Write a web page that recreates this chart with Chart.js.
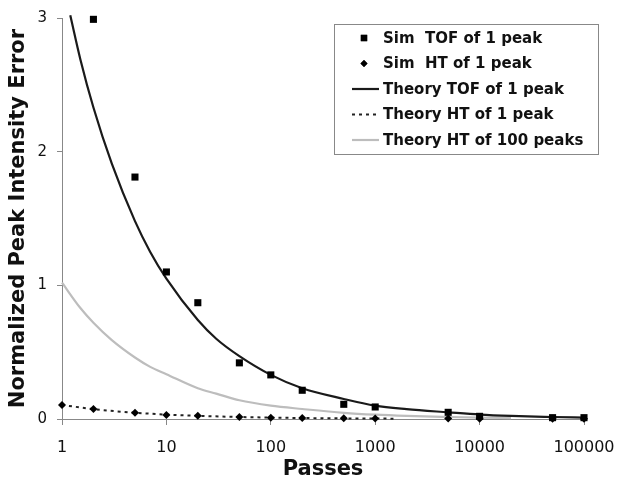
<!DOCTYPE html>
<html>
<head>
<meta charset="utf-8">
<script src="https://cdn.jsdelivr.net/npm/chart.js@4"></script>
<style>
  html, body { margin: 0; padding: 0; background: #fff; }
  #wrap { width: 617px; height: 478px; }
</style>
</head>
<body>
<div id="wrap"><canvas id="chart" width="617" height="478"></canvas></div>
<script>
// tick labels
const xTicks = [1, 10, 100, 1000, 10000, 100000];
const xTickLabels = ['1', '10', '100', '1000', '10000', '100000'];
const yTicks = [0, 1, 2, 3];

// simulated points
const simTofX = [2, 5, 10, 20, 50, 100, 200, 500, 1000, 5000, 10000, 50000, 100000];
const simTofY = [2.99, 1.81, 1.10, 0.87, 0.42, 0.33, 0.215, 0.11, 0.09, 0.05, 0.02, 0.01, 0.01];
const simHtX = [1, 2, 5, 10, 20, 50, 100, 200, 500, 1000, 5000, 10000, 50000, 100000];
const simHtY = [0.105, 0.075, 0.047, 0.03, 0.024, 0.015, 0.01, 0.007, 0.005, 0.004, 0.003, 0.001, 0.002, 0.002];

// theory curves
const theoryTofX = [1.2, 1.5, 2, 3, 5, 7, 10, 20, 30, 50, 100, 200, 500, 1000, 2000, 5000, 10000, 20000, 50000, 100000];
const theoryTofY = [3.02, 2.69, 2.33, 1.91, 1.48, 1.25, 1.05, 0.74, 0.60, 0.47, 0.33, 0.23, 0.15, 0.10, 0.074, 0.05, 0.033, 0.023, 0.015, 0.01];
const theoryHt1X = [1, 2, 5, 10, 20, 50, 100, 200, 500, 1000, 1500];
const theoryHt1Y = [0.105, 0.074, 0.047, 0.033, 0.024, 0.015, 0.0105, 0.0074, 0.0047, 0.0033, 0.0027];
const theoryHt100X = [1, 1.5, 2, 3, 5, 7, 10, 20, 30, 50, 100, 200, 500, 1000, 2000, 5000, 10000, 20000];
const theoryHt100Y = [1.02, 0.83, 0.72, 0.59, 0.46, 0.39, 0.335, 0.23, 0.19, 0.14, 0.10, 0.075, 0.046, 0.032, 0.023, 0.015, 0.010, 0.007];

const zip = (xs, ys) => xs.map((x, i) => ({x: x, y: ys[i]}));

// legend drawn as a framed box in the top right corner
const boxLegend = {
    id: 'boxLegend',
    afterDraw(chart, args, opts) {
        const {ctx} = chart;
        const x0 = opts.x, y0 = opts.y;
        ctx.save();
        ctx.fillStyle = '#fff';
        ctx.fillRect(x0, y0, opts.w, opts.h);
        ctx.strokeStyle = '#888';
        ctx.lineWidth = 1;
        ctx.strokeRect(x0 + 0.5, y0 + 0.5, opts.w, opts.h);
        ctx.font = 'bold 15px "DejaVu Sans"';
        ctx.textBaseline = 'middle';
        ctx.textAlign = 'left';
        chart.data.datasets.forEach((ds, i) => {
            const cy = y0 + 14 + i * 25.5;
            const mx = x0 + 30;
            if (ds.showLine === false) {
                ctx.fillStyle = ds.pointBackgroundColor;
                Chart.helpers.drawPoint(ctx, {pointStyle: ds.pointStyle, radius: ds.pointRadius - 0.5, borderWidth: 0}, mx, cy);
                ctx.fill();
            } else {
                ctx.strokeStyle = ds.borderColor;
                ctx.lineWidth = ds.borderWidth;
                ctx.setLineDash(ds.borderDash || []);
                ctx.beginPath();
                ctx.moveTo(x0 + 18, cy);
                ctx.lineTo(x0 + 45, cy);
                ctx.stroke();
                ctx.setLineDash([]);
            }
            ctx.fillStyle = '#111';
            ctx.fillText(ds.label, x0 + 49, cy + 1);
        });
        ctx.restore();
    }
};

new Chart(document.getElementById('chart'), {
    type: 'line',
    data: {
        datasets: [
            {
                label: 'Sim  TOF of 1 peak',
                data: zip(simTofX, simTofY),
                showLine: false,
                pointStyle: 'rect',
                pointRadius: 5,
                pointBackgroundColor: '#000',
                pointBorderWidth: 0,
                borderColor: '#000',
                clip: false,
                order: 1
            },
            {
                label: 'Sim  HT of 1 peak',
                data: zip(simHtX, simHtY),
                showLine: false,
                pointStyle: 'rectRot',
                pointRadius: 4,
                pointBackgroundColor: '#000',
                pointBorderWidth: 0,
                borderColor: '#000',
                clip: false,
                order: 2
            },
            {
                label: 'Theory TOF of 1 peak',
                data: zip(theoryTofX, theoryTofY),
                borderColor: '#1a1a1a',
                borderWidth: 2.2,
                pointRadius: 0,
                cubicInterpolationMode: 'monotone',
                clip: false,
                order: 3
            },
            {
                label: 'Theory HT of 1 peak',
                data: zip(theoryHt1X, theoryHt1Y),
                borderColor: '#222',
                borderWidth: 2,
                borderDash: [3, 4],
                pointRadius: 0,
                cubicInterpolationMode: 'monotone',
                clip: false,
                order: 4
            },
            {
                label: 'Theory HT of 100 peaks',
                data: zip(theoryHt100X, theoryHt100Y),
                borderColor: '#bdbdbd',
                borderWidth: 2.2,
                pointRadius: 0,
                cubicInterpolationMode: 'monotone',
                clip: false,
                order: 5
            }
        ]
    },
    options: {
        responsive: false,
        animation: false,
        devicePixelRatio: 1,
        layout: {padding: {left: 6, top: 18, right: 33, bottom: 0}},
        plugins: {
            legend: {display: false},
            tooltip: {enabled: false},
            boxLegend: {x: 334, y: 24, w: 264, h: 130}
        },
        scales: {
            x: {
                type: 'logarithmic',
                min: 1,
                max: 100000,
                afterBuildTicks: s => { s.ticks = xTicks.map(v => ({value: v})); },
                afterFit: s => {
                    s.height = 59;
                    s.paddingLeft = 0;
                    s.paddingRight = 0;
                },
                ticks: {
                    autoSkip: false,
                    maxRotation: 0,
                    padding: 13,
                    color: '#111',
                    font: {family: 'DejaVu Sans', size: 16},
                    callback: (v, i) => xTickLabels[i]
                },
                grid: {drawOnChartArea: false, tickLength: 6, color: '#888'},
                border: {color: '#888'},
                title: {
                    display: true,
                    text: 'Passes',
                    color: '#111',
                    font: {family: 'DejaVu Sans', size: 21, weight: 'bold'},
                    padding: {top: 0, bottom: -4}
                }
            },
            y: {
                min: 0,
                max: 3,
                afterBuildTicks: s => { s.ticks = yTicks.map(v => ({value: v})); },
                afterFit: s => {
                    s.width = 56;
                    s.paddingTop = 0;
                    s.paddingBottom = 0;
                },
                ticks: {
                    padding: 10,
                    color: '#111',
                    font: {family: 'DejaVu Sans', size: 15}
                },
                grid: {drawOnChartArea: false, tickLength: 5, color: '#888'},
                border: {color: '#888'},
                title: {
                    display: true,
                    text: 'Normalized Peak Intensity Error',
                    color: '#111',
                    font: {family: 'DejaVu Sans', size: 21, weight: 'bold'},
                    padding: {top: 0, bottom: 0}
                }
            }
        }
    },
    plugins: [boxLegend]
});
</script>
</body>
</html>
